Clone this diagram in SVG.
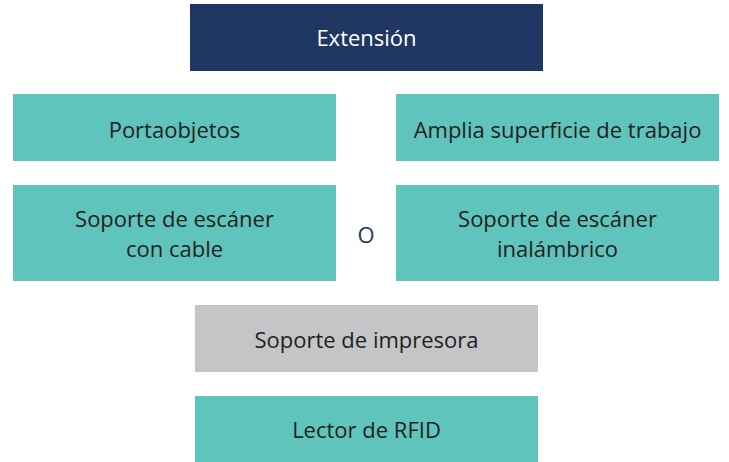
<svg xmlns="http://www.w3.org/2000/svg" width="729" height="462" viewBox="0 0 729 462">
<style>
.t{font-family:"Open Sans","Liberation Sans",sans-serif;font-size:22px;font-weight:500;fill:#231f20;text-anchor:middle}
.w{fill:#ffffff}
.teal{fill:#5fc4bc}
.navy{fill:#1f3762}
.gray{fill:#c4c5c7}
</style>
<rect width="729" height="462" fill="#ffffff"/>
<g id="extension"><rect class="navy" x="190" y="4" width="353" height="67"/><text class="t w" x="366.5" y="46">Extensión</text></g>
<g id="portaobjetos"><rect class="teal" x="13" y="94" width="323" height="67"/><text class="t" x="174.5" y="138">Portaobjetos</text></g>
<g id="amplia"><rect class="teal" x="396" y="94" width="323" height="67"/><text class="t" x="557.5" y="138">Amplia superficie de trabajo</text></g>
<g id="cable"><rect class="teal" x="13" y="185" width="323" height="96"/><text class="t" x="174.5" y="227">Soporte de escáner</text><text class="t" x="174.5" y="257">con cable</text></g>
<g id="o"><text class="t" x="366" y="243" style="fill:#1f3762">O</text></g>
<g id="inalambrico"><rect class="teal" x="396" y="185" width="323" height="96"/><text class="t" x="557.5" y="227">Soporte de escáner</text><text class="t" x="557.5" y="257">inalámbrico</text></g>
<g id="impresora"><rect class="gray" x="195" y="305" width="343" height="67"/><text class="t" x="366.5" y="348">Soporte de impresora</text></g>
<g id="rfid"><rect class="teal" x="195" y="396" width="343" height="66"/><text class="t" x="366.5" y="438">Lector de RFID</text></g>
<g id="connectors"></g>
</svg>
